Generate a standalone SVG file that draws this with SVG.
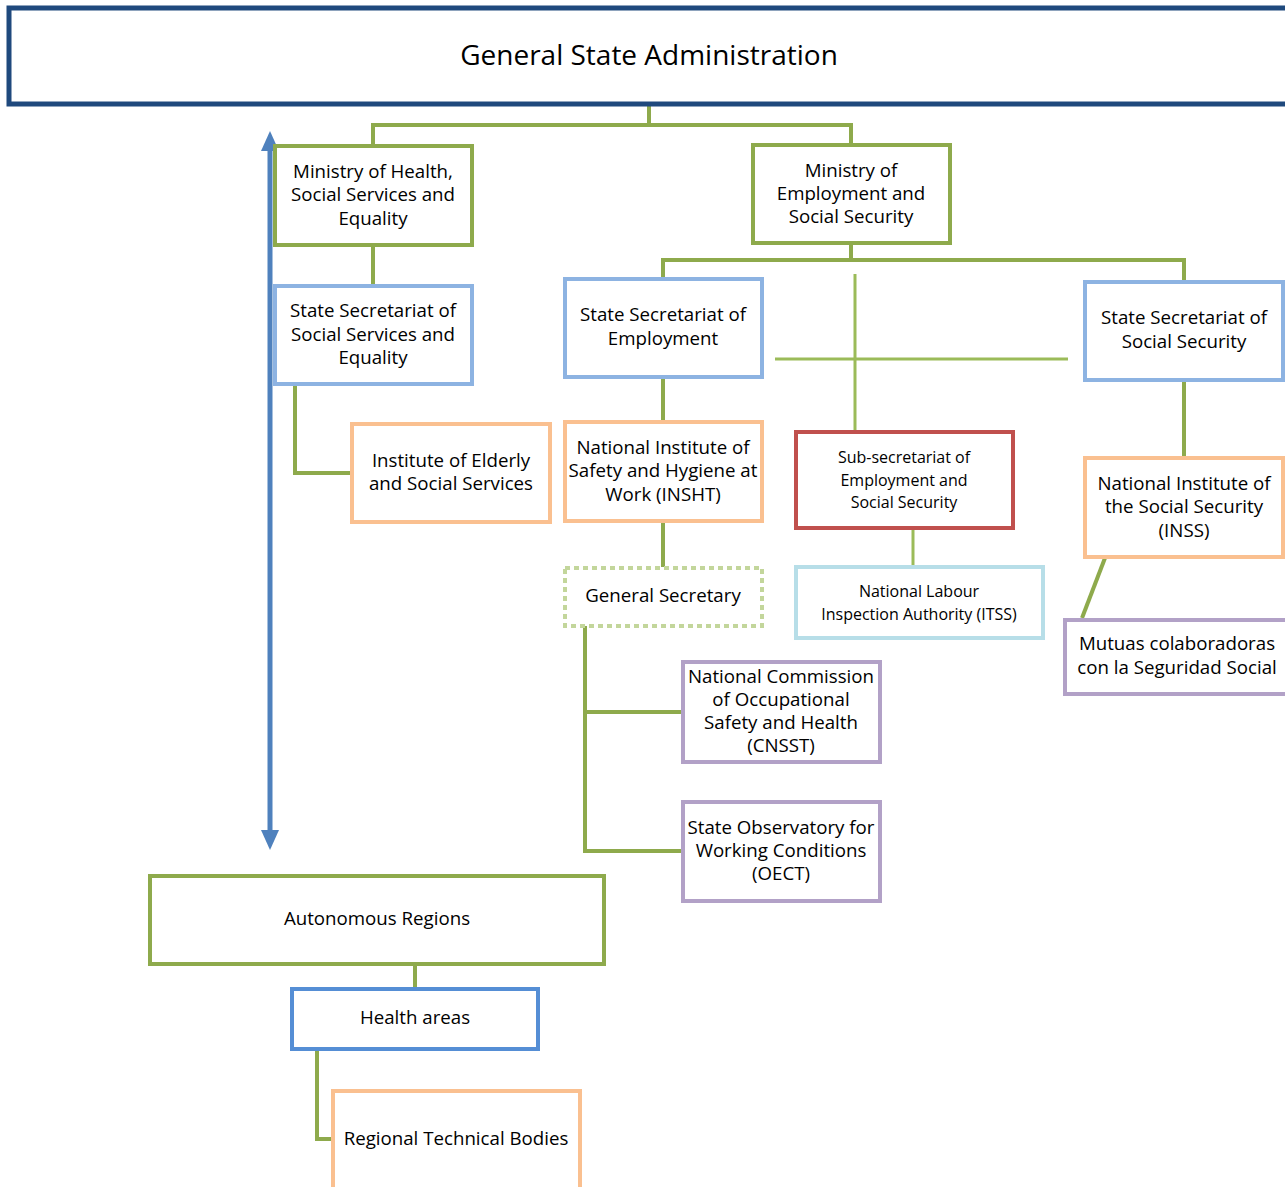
<svg xmlns="http://www.w3.org/2000/svg" width="1285" height="1187" viewBox="0 0 1285 1187">
<style>
text{font-family:"Open Sans","Noto Sans","Liberation Sans",sans-serif;font-size:18.7px;fill:#000;text-anchor:middle}
.s{font-size:16px}
.box{fill:#fff;stroke-width:4}
.green{stroke:#8EAA4C}
.blue{stroke:#8DB3E2}
.orange{stroke:#FAC090}
.red{stroke:#C0504D}
.cyan{stroke:#B7DEE8}
.purple{stroke:#B2A1C7}
.dblue{stroke:#558ED5}
.conn{fill:none;stroke:#8EAA4C;stroke-width:4}
.light{fill:none;stroke:#9BBB59;stroke-width:3}
</style>
<defs>
<marker id="ah" viewBox="0 0 10 10" refX="5" refY="5" markerWidth="4" markerHeight="3.6" orient="auto-start-reverse" markerUnits="strokeWidth" preserveAspectRatio="none">
<path d="M0,0 L10,5 L0,10 z" fill="#4F81BD"/>
</marker>
</defs>
<rect width="1285" height="1187" fill="#fff"/>
<g id="connectors">
<path class="conn" d="M649,104 V125 M373,145 V125 H851 V145"/>
<path class="conn" d="M373,245 V286"/>
<path class="conn" d="M295,384 V473 H352"/>
<path class="conn" d="M851,243 V260 M663,279 V260 H1184 V282"/>
<path class="light" d="M855,274 V432 M775,359 H1068"/>
<path class="conn" d="M663,377 V422"/>
<path class="conn" d="M663,521 V567"/>
<path class="light" d="M913,528 V567"/>
<path class="conn" d="M1184,380 V458"/>
<path class="conn" d="M1105,558 L1082,618"/>
<path class="conn" d="M585,626 V851 H683 M585,712 H683"/>
<path class="conn" d="M415,964 V989"/>
<path class="conn" d="M317,1049 V1139 H333"/>
<path d="M270,141 V840" stroke="#4F81BD" stroke-width="5" fill="none" marker-start="url(#ah)" marker-end="url(#ah)"/>
</g>
<g id="n-gsa">
<rect x="9" y="8" width="1290" height="96" fill="#fff" stroke="#1F497D" stroke-width="5"/>
<text x="649" y="65" style="font-size:28px">General State Administration</text>
</g>
<g id="n-moh">
<rect class="box green" x="275" y="146" width="197" height="99"/>
<text x="373" y="178">Ministry of Health,</text>
<text x="373" y="201">Social Services and</text>
<text x="373" y="225">Equality</text>
</g>
<g id="n-moe">
<rect class="box green" x="753" y="145" width="197" height="98"/>
<text x="851" y="177">Ministry of</text>
<text x="851" y="200">Employment and</text>
<text x="851" y="223">Social Security</text>
</g>
<g id="n-sssse">
<rect class="box blue" x="275" y="286" width="197" height="98"/>
<text x="373" y="317">State Secretariat of</text>
<text x="373" y="341">Social Services and</text>
<text x="373" y="364">Equality</text>
</g>
<g id="n-ies">
<rect class="box orange" x="352" y="424" width="198" height="98"/>
<text x="451" y="467">Institute of Elderly</text>
<text x="451" y="490">and Social Services</text>
</g>
<g id="n-sse">
<rect class="box blue" x="565" y="279" width="197" height="98"/>
<text x="663" y="321">State Secretariat of</text>
<text x="663" y="345">Employment</text>
</g>
<g id="n-sss">
<rect class="box blue" x="1085" y="282" width="198" height="98"/>
<text x="1184" y="324">State Secretariat of</text>
<text x="1184" y="348">Social Security</text>
</g>
<g id="n-insht">
<rect class="box orange" x="565" y="422" width="197" height="99"/>
<text x="663" y="454">National Institute of</text>
<text x="663" y="477">Safety and Hygiene at</text>
<text x="663" y="501">Work (INSHT)</text>
</g>
<g id="n-gs">
<rect x="565" y="568" width="197" height="58" fill="#fff" stroke="#C3D69B" stroke-width="4" stroke-dasharray="5,4"/>
<text x="663" y="602">General Secretary</text>
</g>
<g id="n-sub">
<rect class="box red" x="796" y="432" width="217" height="96"/>
<text class="s" x="904" y="463">Sub-secretariat of</text>
<text class="s" x="904" y="486">Employment and</text>
<text class="s" x="904" y="508">Social Security</text>
</g>
<g id="n-itss">
<rect class="box cyan" x="796" y="567" width="247" height="71"/>
<text class="s" x="919" y="597">National Labour</text>
<text class="s" x="919" y="620">Inspection Authority (ITSS)</text>
</g>
<g id="n-inss">
<rect class="box orange" x="1085" y="458" width="198" height="99"/>
<text x="1184" y="490">National Institute of</text>
<text x="1184" y="513">the Social Security</text>
<text x="1184" y="537">(INSS)</text>
</g>
<g id="n-mutuas">
<rect class="box purple" x="1065" y="620" width="230" height="74"/>
<text x="1177" y="650">Mutuas colaboradoras</text>
<text x="1177" y="674">con la Seguridad Social</text>
</g>
<g id="n-cnsst">
<rect class="box purple" x="683" y="662" width="197" height="100"/>
<text x="781" y="683">National Commission</text>
<text x="781" y="706">of Occupational</text>
<text x="781" y="729">Safety and Health</text>
<text x="781" y="752">(CNSST)</text>
</g>
<g id="n-oect">
<rect class="box purple" x="683" y="802" width="197" height="99"/>
<text x="781" y="834">State Observatory for</text>
<text x="781" y="857">Working Conditions</text>
<text x="781" y="880">(OECT)</text>
</g>
<g id="n-ar">
<rect class="box green" x="150" y="876" width="454" height="88"/>
<text x="377" y="925">Autonomous Regions</text>
</g>
<g id="n-ha">
<rect class="box dblue" x="292" y="989" width="246" height="60"/>
<text x="415" y="1024">Health areas</text>
</g>
<g id="n-rtb">
<rect class="box orange" x="333" y="1091" width="247" height="100"/>
<text x="456" y="1145">Regional Technical Bodies</text>
</g>
</svg>
